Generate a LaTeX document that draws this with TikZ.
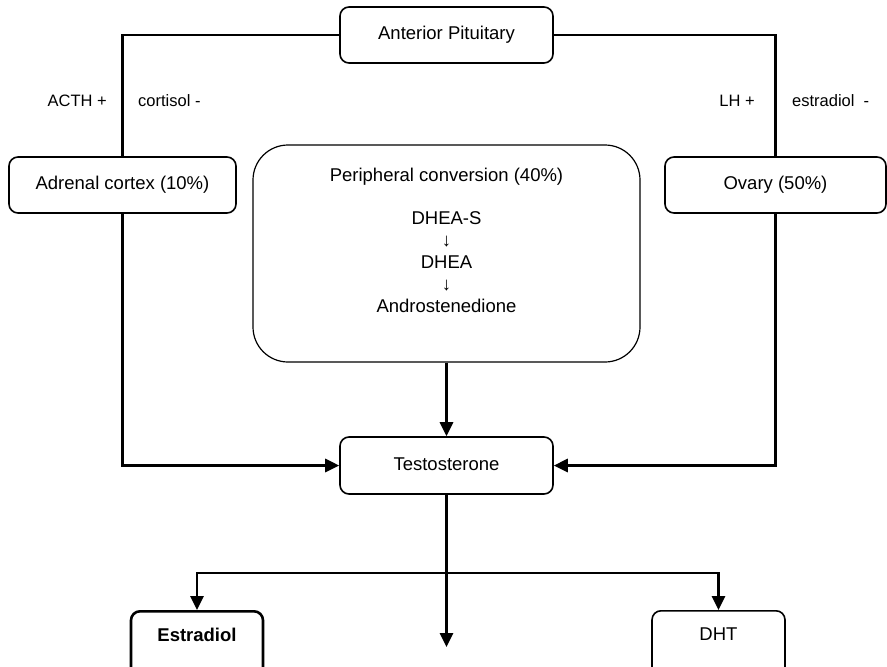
\documentclass[tikz,border=0pt]{standalone}
\usepackage{fontspec}
\setmainfont{Liberation Sans}
\usetikzlibrary{arrows.meta}

\begin{document}
\begin{tikzpicture}[x=1pt,y=-1pt,
  box/.style={draw, line width=1.6pt, rounded corners=9pt, align=center, inner sep=0pt,
    font=\fontsize{18.5}{22}\selectfont},
  conn/.style={line width=2.8pt},
  arr/.style={conn, -{Triangle[length=14pt,width=13pt]}},
  lbl/.style={inner sep=0pt, font=\fontsize{16.5}{20}\selectfont}]
  \useasboundingbox (0,0) rectangle (887,667);
  \clip (0,0) rectangle (887,667);

  % Sources
  \node[box, minimum width=213pt, minimum height=56pt] (pit) at (446.5,35) {\raisebox{3pt}{Anterior Pituitary}};
  \node[box, minimum width=227pt, minimum height=56pt] (adr) at (122.5,185) {Adrenal cortex (10\%)};
  \node[box, minimum width=221pt, minimum height=56pt] (ova) at (775.5,185) {Ovary (50\%)};

  % Peripheral conversion
  \node[box, line width=1.2pt, rounded corners=35pt, minimum width=387pt, minimum height=217pt] (per) at (446.5,253.5) {};
  \node[anchor=north, align=center, inner sep=0pt, font=\fontsize{18.5}{22}\selectfont] (chain)
    at ([yshift=-23pt]per.north) {Peripheral conversion (40\%)\\[21pt]DHEA-S\\↓\\DHEA\\↓\\Androstenedione};

  % Products
  \node[box, minimum width=213pt, minimum height=57pt] (tes) at (446.5,465.5) {\raisebox{3pt}{Testosterone}};
  \node[box, line width=2.6pt, anchor=north, minimum width=132pt, inner ysep=16pt,
    text height=14pt, text depth=30pt, font=\fontsize{18.5}{22}\selectfont\bfseries] (est) at (197,610) {Estradiol};
  \node[box, anchor=north, minimum width=133pt, inner ysep=16pt,
    text height=14pt, text depth=30pt] (dht) at (718.5,610) {DHT};

  % Control lines
  \draw[conn] (pit.west) -| (adr.north);
  \draw[conn] (pit.east) -| (ova.north);
  \node[lbl, anchor=east] (acth) at (107,101) {ACTH +};
  \node[lbl, anchor=west] (cort) at (138,101) {cortisol -};
  \node[lbl, anchor=east] (lh) at (755,101) {LH +};
  \node[lbl, anchor=west] (estr) at (792,101) {estradiol\ \ -};

  % Into testosterone
  \draw[arr] (adr.south) |- (tes.west);
  \draw[arr] (ova.south) |- (tes.east);
  \draw[arr] (per.south) -- (tes.north);

  % Out of testosterone
  \coordinate (fork) at (446.5,573);
  \coordinate (out) at (446.5,647);
  \draw[arr] (tes.south) -- (out);
  \draw[arr] (fork) -| (est.north);
  \draw[arr] (fork) -| (dht.north);
\end{tikzpicture}
\end{document}
